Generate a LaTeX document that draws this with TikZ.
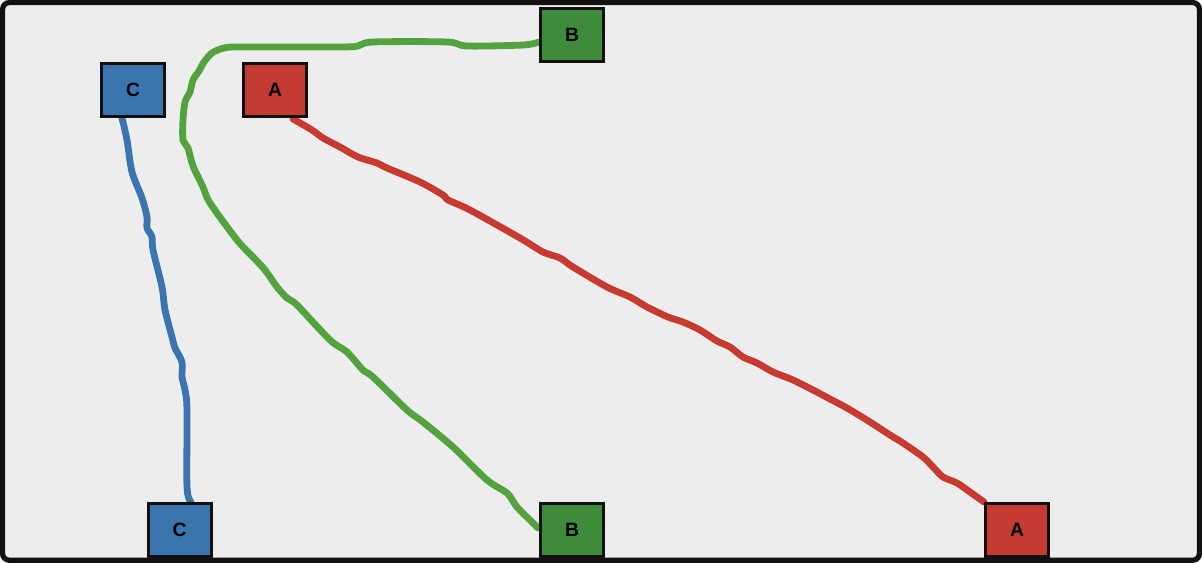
\documentclass[tikz,border=0pt]{standalone}
\usepackage{fontspec}
\setmainfont{Liberation Sans}
\usetikzlibrary{calc}
\definecolor{bgc}{HTML}{EDEDED}
\definecolor{framec}{HTML}{111111}
\definecolor{bluef}{HTML}{3B75AF}
\definecolor{redf}{HTML}{C43B34}
\definecolor{greenf}{HTML}{3E8B3C}
\definecolor{bluel}{HTML}{3B75AF}
\definecolor{redl}{HTML}{C8392F}
\definecolor{greenl}{HTML}{52A23E}
\begin{document}
\begin{tikzpicture}[x=0.75pt,y=-0.75pt,
  box/.style={draw=framec, line width=2.25pt, minimum width=47.25pt, minimum height=39.75pt,
    inner sep=0pt, font=\fontsize{14.5}{16}\selectfont\bfseries, text=black},
  wire/.style={line width=5.1pt, line cap=round, line join=round}]
\useasboundingbox (0,0) rectangle (1202,563);
\fill[bgc, rounded corners=6pt] (0,0) rectangle (1202,563);
% nodes (placed first so anchors exist; redrawn on top below)
\path node[box, fill=bluef] (c1) at (133,90) {C}
      node[box, fill=redf] (a1) at (275,90) {A}
      node[box, fill=greenf] (b1) at (572,35) {B}
      node[box, fill=bluef] (c2) at (179.5,530) {C}
      node[box, fill=greenf] (b2) at (572,530) {B}
      node[box, fill=redf] (a2) at (1017,530) {A};
% blue connector C -- C
\draw[wire, bluel] plot[smooth] coordinates {($(c1.south)+(-11,0)$) (127,140) (132,172) (142,198) (147,217) (147,228) (152,237) (153,250) (162,287) (165,310) (172,337) (175,348) (182,362) (182,377) (185,390) (187,410) (187,487) ($(c2.north)+(11.5,0)$)};
% red connector A -- A
\draw[wire, redl] plot[smooth] coordinates {($(a1.south)+(18,1)$) (312,130) (323,138) (340,147) (358,157) (377,163) (387,168) (420,182) (443,195) (448,200) (470,210) (520,238) (543,252) (560,258) (573,267) (607,287) (630,297) (647,307) (668,317) (683,322) (700,330) (717,341) (730,347) (743,357) (757,363) (773,372) (793,380) (813,390) (830,399) (847,408) (870,422) (890,435) (903,443) (923,457) (933,467) (943,477) (957,483) (970,492) (a2.north west)};
% green connector B -- B
\draw[wire, greenl] plot[smooth] coordinates {($(b1.west)+(0,7)$) (523,45) (467,46) (447,42) (373,42) (358,46) (340,47) (240,47) (224,48) (212,53) (204,62) (199,71) (193,80) (190,92) (185,102) (183,120) (183,140) (188,148) (193,166) (203,187) (210,203) (237,240) (253,257) (265,270) (277,287) (287,298) (297,305) (330,340) (347,352) (363,370) (373,377) (407,410) (423,422) (453,447) (487,480) (507,493) (517,507) (533,523) ($(b2.west)+(-1,-2)$)};
% nodes on top
\path node[box, fill=bluef] at (c1) {C}
      node[box, fill=redf] at (a1) {A}
      node[box, fill=greenf] at (b1) {B}
      node[box, fill=bluef] at (c2) {C}
      node[box, fill=greenf] at (b2) {B}
      node[box, fill=redf] at (a2) {A};
% frame
\draw[framec, line width=3.9pt, rounded corners=5pt] (2.6,2.6) rectangle (1199.4,560.2);
\end{tikzpicture}
\end{document}
